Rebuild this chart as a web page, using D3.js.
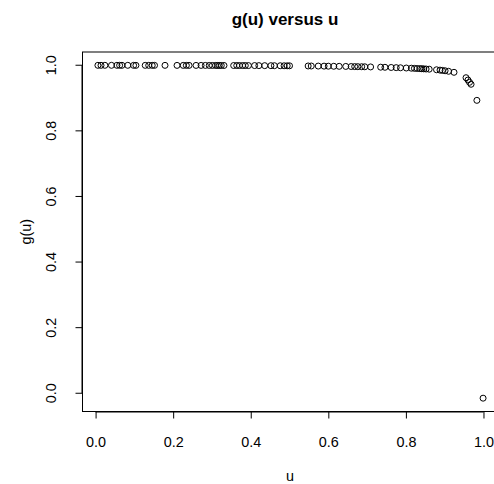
<!DOCTYPE html>
<html>
<head>
<meta charset="utf-8">
<script src="https://cdn.jsdelivr.net/npm/d3@7"></script>
<style>
  html, body { margin: 0; padding: 0; background: #fff; }
  svg text { font-family: "Liberation Sans", Arial, sans-serif; fill: #000; }
</style>
</head>
<body>
<svg id="chart" width="494" height="484"></svg>
<script>
// g(u) versus u — R-style scatter

const uVals = [
  0.006, 0.014, 0.024, 0.041, 0.055, 0.062, 0.068, 0.083, 0.098, 0.104, 0.128, 0.137, 0.146, 0.152, 0.179,
  0.210,
  0.226, 0.234, 0.241, 0.259, 0.272, 0.283, 0.293, 0.301, 0.309, 0.314, 0.319, 0.324, 0.331,
  0.356, 0.364, 0.371, 0.379, 0.386, 0.394, 0.410, 0.421, 0.436, 0.452, 0.461, 0.476, 0.486, 0.494, 0.500,
  0.548, 0.556, 0.574, 0.589, 0.600, 0.614, 0.628, 0.645, 0.659, 0.668, 0.676, 0.686, 0.694, 0.709,
  0.735, 0.746, 0.762, 0.775, 0.786, 0.801, 0.814, 0.822, 0.829, 0.836, 0.841, 0.846, 0.852, 0.860,
  0.879, 0.888, 0.894, 0.901, 0.910, 0.924,
  0.955, 0.960, 0.964, 0.968, 0.983, 0.999
];

const gVals = [
  0.9998, 0.9998, 0.9998, 0.9998, 0.9998, 0.9998, 0.9998, 0.9998, 0.9997, 0.9997, 0.9997, 0.9997, 0.9997, 0.9997, 0.9997,
  0.9996,
  0.9996, 0.9996, 0.9996, 0.9995, 0.9995, 0.9995, 0.9994, 0.9994, 0.9994, 0.9994, 0.9994, 0.9993, 0.9993,
  0.9992, 0.9992, 0.9991, 0.9991, 0.9991, 0.9990, 0.9990, 0.9989, 0.9988, 0.9987, 0.9986, 0.9985, 0.9984, 0.9983, 0.9983,
  0.9978, 0.9977, 0.9975, 0.9973, 0.9971, 0.9969, 0.9967, 0.9964, 0.9961, 0.9959, 0.9957, 0.9955, 0.9953, 0.9949,
  0.9941, 0.9938, 0.9932, 0.9927, 0.9923, 0.9916, 0.9910, 0.9905, 0.9901, 0.9897, 0.9894, 0.9890, 0.9886, 0.9880,
  0.9862, 0.9851, 0.9843, 0.9832, 0.9816, 0.9785,
  0.962, 0.955, 0.948, 0.942, 0.893, -0.015
];

const xTicks = [0.0, 0.2, 0.4, 0.6, 0.8, 1.0];
const yTicks = [0.0, 0.2, 0.4, 0.6, 0.8, 1.0];

const svg = d3.select('#chart');
const box = { left: 82.5, right: 498.5, top: 52, bottom: 411.5 };
const FS = 14.4;

// R pads the data range by 4% on each side
function padded(vals) {
  const [lo, hi] = d3.extent(vals);
  const p = (hi - lo) * 0.04;
  return [lo - p, hi + p];
}

const x = d3.scaleLinear().domain(padded(uVals)).range([box.left, box.right]);
const y = d3.scaleLinear().domain(padded(gVals)).range([box.bottom, box.top]);

// --- points ---
svg.append('g').selectAll('circle')
  .data(uVals.map((u, i) => ({ u, g: gVals[i] })))
  .join('circle')
  .attr('cx', d => x(d.u))
  .attr('cy', d => y(d.g))
  .attr('r', 3)
  .attr('fill', 'none')
  .attr('stroke', '#000')
  .attr('stroke-width', 1);

// --- box ---
svg.append('rect')
  .attr('x', box.left).attr('y', box.top)
  .attr('width', box.right - box.left).attr('height', box.bottom - box.top)
  .attr('fill', 'none').attr('stroke', '#000').attr('stroke-width', 1);

// --- x axis ---
const xAxis = svg.append('g')
  .attr('transform', `translate(0,${box.bottom})`)
  .call(d3.axisBottom(x).tickValues(xTicks).tickSize(7).tickFormat(d3.format('.1f')));
xAxis.select('.domain')
  .attr('d', `M${x(xTicks[0])},0.5H${x(xTicks[xTicks.length - 1])}`);
xAxis.selectAll('text')
  .style('font-size', FS + 'px')
  .attr('fill', '#000')
  .attr('y', 30).attr('dy', null)
  .attr('dominant-baseline', 'central');

// --- y axis ---
const yAxis = svg.append('g')
  .attr('transform', `translate(${box.left},0)`)
  .call(d3.axisLeft(y).tickValues(yTicks).tickSize(7).tickFormat(d3.format('.1f')));
yAxis.select('.domain')
  .attr('d', `M-0.5,${y(yTicks[0])}V${y(yTicks[yTicks.length - 1])}`);
yAxis.selectAll('.tick').attr('transform', null);
yAxis.selectAll('.tick line').attr('transform', d => `translate(0,${y(d)})`);
yAxis.selectAll('text')
  .style('font-size', FS + 'px')
  .attr('fill', '#000')
  .attr('x', null).attr('dy', null).attr('y', 0)
  .attr('text-anchor', 'middle')
  .attr('dominant-baseline', 'central')
  .attr('transform', d => `translate(-32,${y(d)}) rotate(-90)`);

// --- labels ---
svg.append('text')
  .attr('x', 285).attr('y', 25)
  .attr('text-anchor', 'middle')
  .style('font-size', '17px').style('font-weight', 'bold')
  .text('g(u) versus u');

svg.append('text')
  .attr('x', 290).attr('y', 481)
  .attr('text-anchor', 'middle')
  .style('font-size', FS + 'px')
  .text('u');

svg.append('text')
  .attr('transform', `translate(26,${(box.top + box.bottom) / 2}) rotate(-90)`)
  .attr('text-anchor', 'middle')
  .attr('dominant-baseline', 'central')
  .style('font-size', FS + 'px')
  .text('g(u)');
</script>
</body>
</html>
